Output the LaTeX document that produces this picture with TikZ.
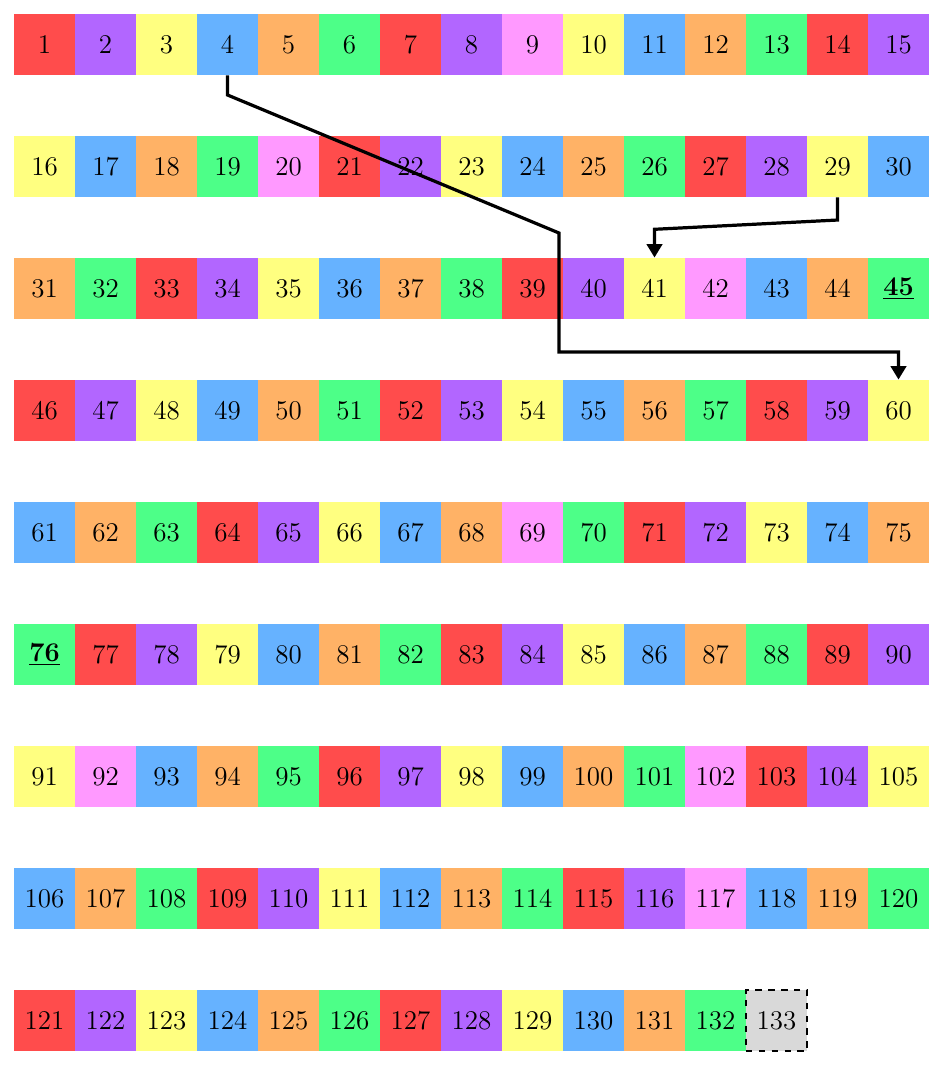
\documentclass[tikz,border=0pt]{standalone}
\usetikzlibrary{arrows.meta}
\definecolor{cred}{RGB}{255,76,76}
\definecolor{cpurple}{RGB}{178,102,255}
\definecolor{cyellow}{RGB}{255,255,128}
\definecolor{cblue}{RGB}{102,178,255}
\definecolor{corange}{RGB}{255,178,102}
\definecolor{cgreen}{RGB}{77,255,136}
\definecolor{cpink}{RGB}{255,153,255}
\definecolor{cgray}{RGB}{217,217,217}
\begin{document}
\begin{tikzpicture}[>={Triangle[length=0.22cm, width=0.25cm]},
    cell/.style={minimum size=1cm, inner sep=0pt, font=\fontsize{12.6}{15}\selectfont},
    jump/.style={->, line width=1.5pt}]
    \useasboundingbox (0,0) rectangle (15.443,-17.459);

    % Cells, 15 per row
    \foreach \n/\col/\lab in {
        1/cred/1, 2/cpurple/2, 3/cyellow/3, 4/cblue/4, 5/corange/5,
        6/cgreen/6, 7/cred/7, 8/cpurple/8, 9/cpink/9, 10/cyellow/10,
        11/cblue/11, 12/corange/12, 13/cgreen/13, 14/cred/14, 15/cpurple/15,
        16/cyellow/16, 17/cblue/17, 18/corange/18, 19/cgreen/19, 20/cpink/20,
        21/cred/21, 22/cpurple/22, 23/cyellow/23, 24/cblue/24, 25/corange/25,
        26/cgreen/26, 27/cred/27, 28/cpurple/28, 29/cyellow/29, 30/cblue/30,
        31/corange/31, 32/cgreen/32, 33/cred/33, 34/cpurple/34, 35/cyellow/35,
        36/cblue/36, 37/corange/37, 38/cgreen/38, 39/cred/39, 40/cpurple/40,
        41/cyellow/41, 42/cpink/42, 43/cblue/43, 44/corange/44,
        45/cgreen/{\underline{\textbf{45}}},
        46/cred/46, 47/cpurple/47, 48/cyellow/48, 49/cblue/49, 50/corange/50,
        51/cgreen/51, 52/cred/52, 53/cpurple/53, 54/cyellow/54, 55/cblue/55,
        56/corange/56, 57/cgreen/57, 58/cred/58, 59/cpurple/59, 60/cyellow/60,
        61/cblue/61, 62/corange/62, 63/cgreen/63, 64/cred/64, 65/cpurple/65,
        66/cyellow/66, 67/cblue/67, 68/corange/68, 69/cpink/69, 70/cgreen/70,
        71/cred/71, 72/cpurple/72, 73/cyellow/73, 74/cblue/74, 75/corange/75,
        76/cgreen/{\underline{\textbf{76}}},
        77/cred/77, 78/cpurple/78, 79/cyellow/79, 80/cblue/80,
        81/corange/81, 82/cgreen/82, 83/cred/83, 84/cpurple/84, 85/cyellow/85,
        86/cblue/86, 87/corange/87, 88/cgreen/88, 89/cred/89, 90/cpurple/90,
        91/cyellow/91, 92/cpink/92, 93/cblue/93, 94/corange/94, 95/cgreen/95,
        96/cred/96, 97/cpurple/97, 98/cyellow/98, 99/cblue/99, 100/corange/100,
        101/cgreen/101, 102/cpink/102, 103/cred/103, 104/cpurple/104, 105/cyellow/105,
        106/cblue/106, 107/corange/107, 108/cgreen/108, 109/cred/109, 110/cpurple/110,
        111/cyellow/111, 112/cblue/112, 113/corange/113, 114/cgreen/114, 115/cred/115,
        116/cpurple/116, 117/cpink/117, 118/cblue/118, 119/corange/119, 120/cgreen/120,
        121/cred/121, 122/cpurple/122, 123/cyellow/123, 124/cblue/124, 125/corange/125,
        126/cgreen/126, 127/cred/127, 128/cpurple/128, 129/cyellow/129, 130/cblue/130,
        131/corange/131, 132/cgreen/132} {
        \pgfmathtruncatemacro{\c}{mod(\n-1,15)}
        \pgfmathtruncatemacro{\r}{div(\n-1,15)}
        \node[cell, fill=\col] (c\n) at (0.7295+\c, -0.7295-2*\r) {\lab};
    }

    % Last cell, still empty
    \node[cell, fill=cgray, draw, thick, dashed] (c133) at (12.7295, -16.7295) {133};

    % Jumps
    \coordinate (b1) at (3.7295, -1.557);
    \coordinate (b2) at (9.164, -3.820);
    \coordinate (b3) at (9.164, -5.770);
    \draw[jump] (c4.south) -- (b1) -- (b2) -- (b3) -| (c60.north);

    \coordinate (d1) at (13.7295, -3.607);
    \coordinate (d2) at (10.7295, -3.759);
    \draw[jump] (c29.south) -- (d1) -- (d2) -- (c41.north);
\end{tikzpicture}
\end{document}
